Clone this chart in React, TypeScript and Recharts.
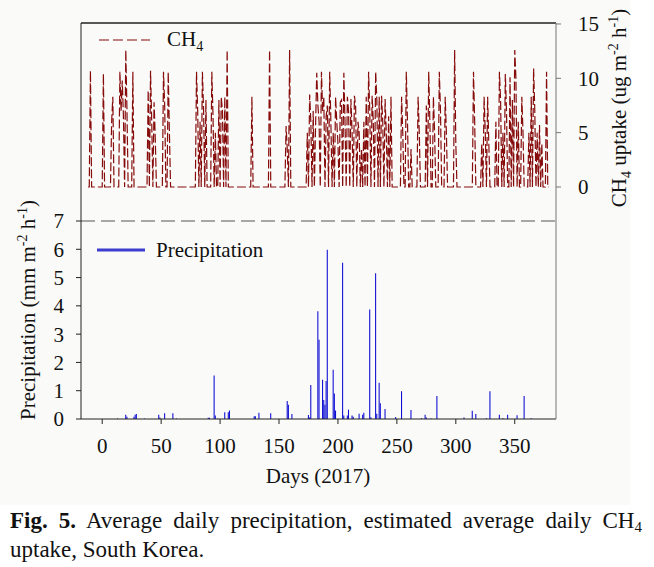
import { ComposedChart, Bar, Line, XAxis, YAxis, ReferenceLine, Customized } from 'recharts';

// CH4 uptake (ug m-2 h-1), only the days with a non-zero value; other days sit on 0
const ch4Days = [
  -10, 1, 8, 9, 15, 16, 17, 18, 20, 21, 26, 39, 41, 42, 44, 45, 52, 53, 56, 57,
  80, 81, 83, 85, 86, 88, 93, 94, 96, 99, 101, 102, 104, 106, 127, 142, 156, 157, 159,
  174, 176, 177, 179, 181, 182, 183, 184, 186, 187, 188, 190, 191, 193, 194, 196, 198, 199, 200,
  202, 203, 205, 206, 208, 209, 211, 212, 214, 215, 217, 218, 220, 222, 224, 226, 227, 229, 230,
  232, 233, 235, 237, 238, 240, 241, 243, 245, 254, 255, 258, 259, 262, 268, 269, 275, 277, 278,
  281, 282, 286, 287, 291, 292, 299, 300, 315, 316, 322, 324, 325, 327, 328, 334, 337, 338, 340,
  342, 343, 346, 348, 350, 351, 353, 356, 357, 362, 364, 366, 367, 369, 371, 373, 377,
];
const ch4Values = [
  10.7, 10.4, 6.0, 8.3, 10.6, 7.0, 9.8, 6.5, 12.6, 7.0, 10.6, 8.9, 10.7, 6.0, 7.8, 4.5, 10.6, 7.5, 10.6, 5.0,
  10.6, 7.0, 6.0, 10.6, 7.1, 8.0, 10.6, 6.5, 5.0, 8.0, 8.3, 7.0, 8.3, 12.6, 8.3, 12.6, 5.6, 3.5, 12.6,
  5.0, 8.5, 6.0, 7.0, 5.5, 10.5, 7.5, 6.0, 10.6, 7.0, 8.3, 6.5, 7.5, 10.6, 6.0, 5.0, 8.3, 6.0, 4.0,
  7.8, 8.0, 10.5, 6.0, 8.3, 7.0, 8.1, 5.0, 8.4, 7.4, 6.0, 5.0, 3.5, 6.0, 8.3, 10.6, 7.0, 8.4, 6.0,
  10.6, 8.0, 8.3, 8.4, 6.0, 8.1, 5.0, 6.5, 8.3, 8.3, 5.0, 10.6, 6.0, 3.5, 8.3, 5.0, 7.5, 10.6, 6.0,
  8.3, 5.0, 10.6, 7.0, 8.3, 5.0, 12.6, 4.0, 10.6, 6.0, 4.0, 8.3, 5.0, 8.3, 4.0, 6.0, 10.6, 8.0, 5.0,
  10.4, 7.0, 10.1, 8.0, 12.6, 10.0, 6.0, 8.3, 5.0, 5.0, 8.3, 10.9, 7.0, 5.0, 5.7, 4.0, 10.6,
];
const ch4First = -12;
const ch4Last = 379;

// precipitation (mm m-2 h-1), rainy days only
const precipDays = [
  13, 20, 21, 27, 28, 29, 36, 48, 49, 53, 60, 63, 90, 91, 95, 96, 98, 104, 107, 108,
  129, 130, 133, 143, 157, 158, 161, 175, 176, 177, 183, 184, 187, 188, 189, 190, 191,
  196, 197, 198, 204, 205, 208, 209, 212, 213, 218, 221, 222, 227, 228, 232, 233, 235, 236,
  240, 249, 254, 262, 271, 274, 275, 279, 284, 307, 314, 317, 326, 329, 337, 340, 344, 352, 358, 364,
];
const precipValues = [
  0.02, 0.15, 0.08, 0.08, 0.15, 0.18, 0.02, 0.15, 0.05, 0.2, 0.2, 0.02, 0.04, 0.04, 1.54, 0.12, 0.02, 0.24, 0.24, 0.3,
  0.1, 0.1, 0.22, 0.2, 0.64, 0.5, 0.18, 0.14, 0.05, 1.2, 3.81, 2.8, 1.39, 0.67, 0.5, 1.34, 5.98,
  1.74, 0.9, 0.3, 5.52, 0.12, 0.12, 0.33, 0.12, 0.08, 0.19, 0.15, 0.22, 3.87, 0.06, 5.15, 0.19, 1.28, 0.56,
  0.35, 0.07, 0.98, 0.32, 0.03, 0.15, 0.05, 0.02, 0.81, 0.05, 0.29, 0.18, 0.03, 0.98, 0.15, 0.03, 0.15, 0.13, 0.81, 0.03,
];

const dayTicks = [0, 50, 100, 150, 200, 250, 300, 350];
const precipTicks = [0, 1, 2, 3, 4, 5, 6, 7];
const ch4Ticks = [0, 5, 10, 15];

const serif = '"Liberation Serif", "Times New Roman", serif';
const ch4Color = '#860c0c';
const precipColor = '#0c0cd4';

const ch4Map = new Map(ch4Days.map((d, i) => [d, ch4Values[i]]));
const precipMap = new Map(precipDays.map((d, i) => [d, precipValues[i]]));

const data: { day: number; ch4: number; precip: number }[] = [];
for (let d = ch4First; d <= ch4Last; d++) {
  data.push({ day: d, ch4: ch4Map.get(d) ?? 0, precip: precipMap.get(d) ?? 0 });
}

function Overlay() {
  return (
    <g fontFamily={serif} fill="#111">
      {/* legends */}
      <line x1={99} y1={40} x2={150} y2={40} stroke={ch4Color} strokeDasharray="10 4" />
      <text x={167} y={46} fontSize={21}>
        CH<tspan dy={5} fontSize={14}>4</tspan>
      </text>
      <line x1={97} y1={250} x2={145} y2={250} stroke="#3c3cd0" strokeWidth={3} />
      <text x={156} y={257} fontSize={21}>Precipitation</text>

      {/* axis titles */}
      <text x={318} y={483} textAnchor="middle" fontSize={21}>Days (2017)</text>
      <text transform="rotate(-90)" x={-310} y={35} textAnchor="middle" fontSize={21}>
        Precipitation (mm m<tspan dy={-8} fontSize={14}>-2</tspan>
        <tspan dy={8}> h</tspan><tspan dy={-8} fontSize={14}>-1</tspan><tspan dy={8}>)</tspan>
      </text>
      <text transform="rotate(-90)" x={-108} y={626} textAnchor="middle" fontSize={21}>
        CH<tspan dy={5} fontSize={14}>4</tspan><tspan dy={-5}> uptake (ug m</tspan>
        <tspan dy={-8} fontSize={14}>-2</tspan><tspan dy={8}> h</tspan>
        <tspan dy={-8} fontSize={14}>-1</tspan><tspan dy={8}>)</tspan>
      </text>
    </g>
  );
}

export default function App() {
  const tickStyle = { fontFamily: serif, fontSize: 21, fill: '#111' };
  return (
    <div style={{ position: 'absolute', left: 0, top: 0, width: 654, height: 567, background: '#fff' }}>
      <div style={{ position: 'absolute', left: 0, top: 0, width: 630, height: 505, background: '#fafaf8' }} />
      <div style={{ position: 'absolute', left: 0, top: 0 }}>
        <ComposedChart
          width={654}
          height={505}
          data={data}
          margin={{ top: 23, right: 38, bottom: 56, left: 21 }}
        >
          <XAxis
            dataKey="day"
            type="number"
            domain={[-18, 385]}
            ticks={dayTicks}
            interval={0}
            allowDataOverflow
            height={30}
            tickSize={5}
            tickMargin={14}
            stroke="#222"
            tick={tickStyle}
          />
          <YAxis
            yAxisId="p"
            orientation="left"
            domain={[0, 14]}
            ticks={precipTicks}
            interval={0}
            allowDataOverflow
            width={60}
            tickSize={5}
            tickMargin={12}
            stroke="#222"
            tick={tickStyle}
          />
          <YAxis
            yAxisId="c"
            orientation="right"
            domain={[-21.35, 15.09]}
            ticks={ch4Ticks}
            interval={0}
            allowDataOverflow
            width={60}
            tickSize={5}
            tickMargin={17}
            stroke="#777"
            tick={tickStyle}
          />
          <ReferenceLine yAxisId="p" y={14} stroke="#222" strokeWidth={1.5} />
          <ReferenceLine yAxisId="p" y={7} stroke="#555" strokeDasharray="14 6" />
          <Bar
            yAxisId="p"
            dataKey="precip"
            fill={precipColor}
            barSize={2}
            isAnimationActive={false}
          />
          <Line
            yAxisId="c"
            dataKey="ch4"
            type="linear"
            stroke={ch4Color}
            strokeWidth={1.2}
            strokeDasharray="9 3"
            dot={false}
            activeDot={false}
            isAnimationActive={false}
          />
          <Customized component={<Overlay />} />
        </ComposedChart>
      </div>
      <div
        style={{
          position: 'absolute',
          left: 10,
          top: 506,
          width: 632,
          fontFamily: serif,
          fontSize: 23,
          lineHeight: '29px',
          color: '#111',
          textAlign: 'justify',
          textAlignLast: 'left',
        }}
      >
        <b>Fig. 5.</b> Average daily precipitation, estimated average daily CH<sub style={{ fontSize: 15, verticalAlign: '-4px', lineHeight: 0 }}>4</sub> uptake, South Korea.
      </div>
    </div>
  );
}
